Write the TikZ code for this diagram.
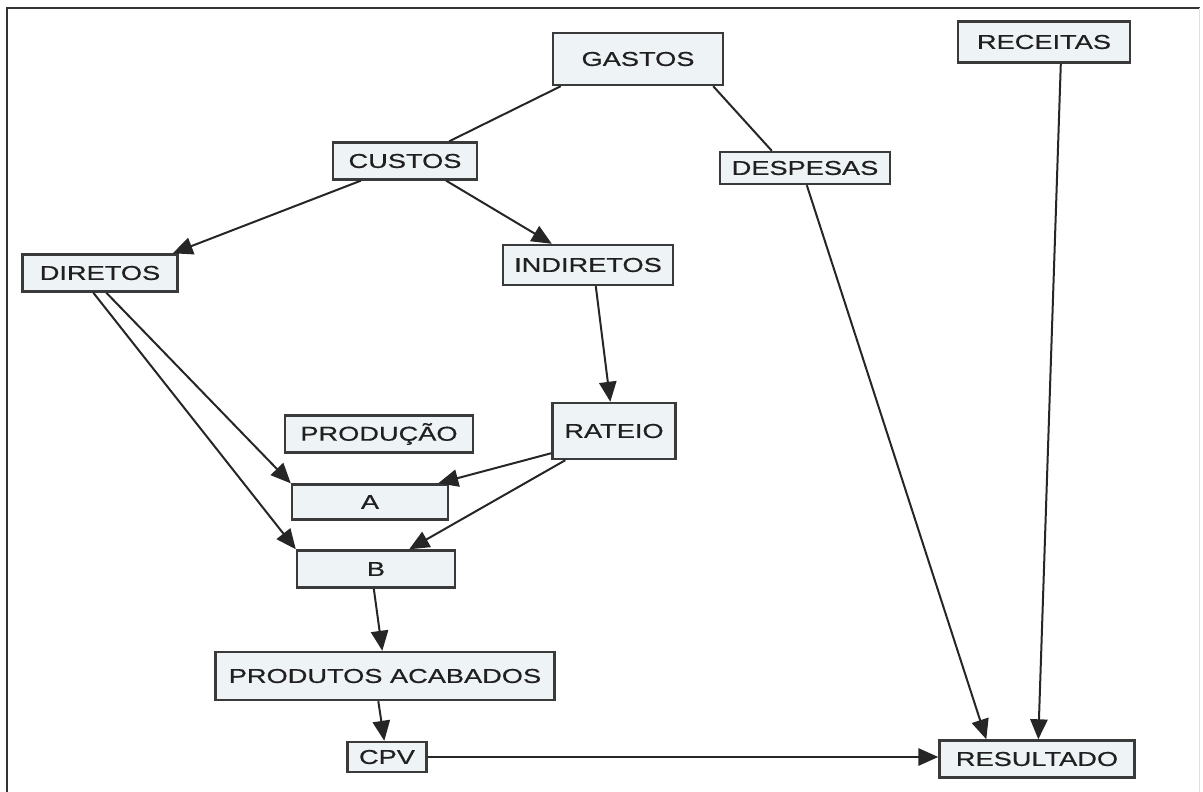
\documentclass[tikz,border=0pt]{standalone}
\usepackage{fontspec}
\setmainfont[FakeStretch=1.36,FakeBold=0.6]{Liberation Sans}
\usetikzlibrary{arrows.meta,calc}
\definecolor{boxfill}{HTML}{EEF3F6}
\definecolor{boxline}{HTML}{3A3A3A}
\definecolor{txt}{HTML}{202020}
\begin{document}
\begin{tikzpicture}[x=0.75pt,y=-0.75pt,
  bx/.style 2 args={draw=boxline, line width=1.8pt, fill=boxfill, text=txt,
    font=\fontsize{15pt}{17pt}\selectfont, inner sep=0pt,
    minimum width=#1*0.75pt, minimum height=#2*0.75pt},
  ln/.style={draw=black!85, line width=1.5pt},
  ar/.style={ln, -{Triangle[length=15pt,width=13pt]}}]
\useasboundingbox (0,0) rectangle (1203,792);
% frame
\draw[line width=1.6pt, draw=black!80] (7,792) -- (7,8) -- (1200,8);
\draw[line width=0.6pt, draw=black!12] (1199,8) -- (1199,792);
% boxes
\node[bx={170}{52}] (gastos) at (638,59) {GASTOS};
\node[bx={172}{41}] (receitas) at (1044,42) {RECEITAS};
\node[bx={144}{37}] (custos) at (405,161) {CUSTOS};
\node[bx={170}{32}] (despesas) at (805,168) {DESPESAS};
\node[bx={155}{37}] (diretos) at (100,273) {DIRETOS};
\node[bx={170}{40}] (indiretos) at (588,265) {INDIRETOS};
\node[bx={188}{37}] (producao) at (379,434) {PRODUÇÃO};
\node[bx={123}{56}] (rateio) at (614,431) {RATEIO};
\node[bx={156}{35}] (a) at (370,502) {A};
\node[bx={158}{37}] (b) at (376,569) {B};
\node[bx={339}{48}] (produtos) at (385,676) {PRODUTOS ACABADOS};
\node[bx={79}{30}] (cpv) at (387,757) {CPV};
\node[bx={195}{37}] (resultado) at (1037,759) {RESULTADO};
% connectors
\draw[ln] ($(gastos.south west)+(9,0)$) -- ($(custos.north east)+(-29,0)$);
\draw[ln] ($(gastos.south east)+(-11,0)$) -- ($(despesas.north west)+(53,0)$);
\draw[ar] ($(custos.south west)+(29,0)$) -- ($(diretos.north east)+(-6,0)$);
\draw[ar] ($(custos.south east)+(-32,0)$) -- ($(indiretos.north west)+(50,0)$);
\draw[ar] ($(diretos.south west)+(85,0)$) -- (a.north west);
\draw[ar] ($(diretos.south west)+(72,0)$) -- (b.north west);
\draw[ar] ($(indiretos.south west)+(94,0)$) -- ($(rateio.north west)+(59,0)$);
\draw[ar] ($(rateio.south west)+(0,-7)$) -- ($(a.north east)+(-11,0)$);
\draw[ar] ($(rateio.south west)+(14,0)$) -- ($(b.north east)+(-47,0)$);
\draw[ar] ($(b.south west)+(78,0)$) -- ($(produtos.north west)+(168,0)$);
\draw[ar] ($(produtos.south west)+(164,0)$) -- ($(cpv.north west)+(38,0)$);
\draw[ar] (cpv.east) -- (resultado.west |- cpv.east);
\draw[ar] ($(despesas.south west)+(88,0)$) -- ($(resultado.north west)+(48,0)$);
\draw[ar] ($(receitas.south west)+(104,0)$) -- ($(resultado.north west)+(100,0)$);
\end{tikzpicture}
\end{document}
